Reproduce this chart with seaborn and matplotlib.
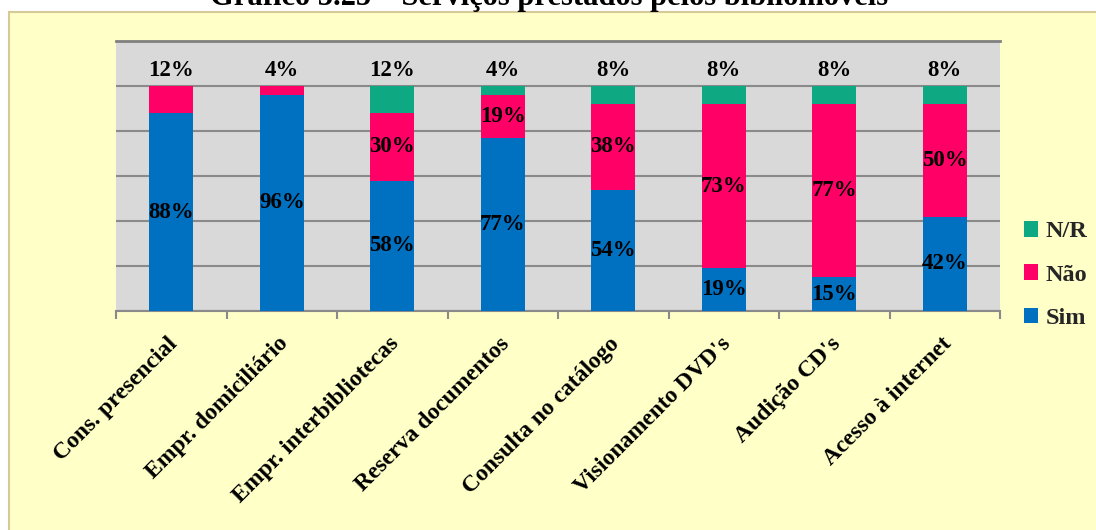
import matplotlib
matplotlib.use("Agg")
import matplotlib.pyplot as plt
import matplotlib.transforms as mtransforms
from matplotlib.patches import Rectangle, Patch
import numpy as np
import pandas as pd
import seaborn as sns

# Services offered by the mobile libraries (share of answers, %)
categories = ["Cons. presencial", "Empr. domiciliário", "Empr. interbibliotecas",
              "Reserva documentos", "Consulta no catálogo", "Visionamento DVD's",
              "Audição CD's", "Acesso à internet"]
sim = [88, 96, 58, 77, 54, 19, 15, 42]
nao = [12, 4, 30, 19, 38, 73, 77, 50]
nr = [0, 0, 12, 4, 8, 8, 8, 8]

colors = {"Sim": "#0070C0", "Não": "#FF0066", "N/R": "#0EA882"}

sns.set_theme(style="white")
plt.rcParams["font.family"] = ["Liberation Serif", "DejaVu Serif"]

W, H = 1096, 530
fig = plt.figure(figsize=(W / 100, H / 100), dpi=100)
fig.patch.set_facecolor("white")

# pale yellow chart area with a thin olive border
fig.patches.append(Rectangle((9 / W, -0.02), 1.0, 1 - 12 / H + 0.02,
                             transform=fig.transFigure, facecolor="#FFFFC8",
                             edgecolor="#D6CB96", lw=1.5, zorder=-10))

ax = fig.add_axes([116 / W, 1 - 311 / H, 884 / W, 270 / H])
ax.set_zorder(1)
ax.set_facecolor("#D9D9D9")

df = pd.DataFrame({"cat": categories, "Sim": sim, "Não": nao, "N/R": nr})
df["top_Sim"] = df["Sim"]
df["top_Não"] = df["Sim"] + df["Não"]
df["top_N/R"] = df["Sim"] + df["Não"] + df["N/R"]

# stacked bars: draw the cumulative tops from tallest to shortest
for name in ["N/R", "Não", "Sim"]:
    sns.barplot(data=df, x="cat", y=f"top_{name}", color=colors[name],
                saturation=1, width=0.4, errorbar=None, ax=ax, zorder=3,
                linewidth=0)

ax.set_xlim(-0.5, len(categories) - 0.5)
ax.set_ylim(0, 120)
ax.set_yticks(np.arange(0, 121, 20))
ax.set_yticklabels([])
ax.yaxis.grid(True, color="#8A8A8A", lw=1.5)
ax.set_axisbelow(True)
ax.set_xlabel("")
ax.set_ylabel("")
for side in ["left", "right"]:
    ax.spines[side].set_visible(False)
ax.spines["top"].set_color("#808080")
ax.spines["top"].set_linewidth(2)
ax.spines["bottom"].set_color("#8A8A8A")
ax.spines["bottom"].set_linewidth(1.5)

ax.set_xticks(range(len(categories)))
ax.set_xticklabels(categories, rotation=45, ha="right", va="top",
                   rotation_mode="anchor", fontsize=17, fontweight="bold",
                   color="black")
ax.set_xticks(np.arange(-0.5, len(categories), 1), minor=True)
ax.tick_params(axis="x", which="major", length=0, pad=16)
ax.tick_params(axis="x", which="minor", length=6, width=1.5, color="#8A8A8A",
               direction="out", bottom=True)
ax.tick_params(axis="y", length=0)
shift = mtransforms.ScaledTranslation(-0.04, 0, fig.dpi_scale_trans)
for lab in ax.get_xticklabels():
    lab.set_transform(lab.get_transform() + shift)

# value labels: inner segments at their centre, top segment above the bar
for i in range(len(categories)):
    vals = [sim[i], nao[i], nr[i]]
    top_idx = max(k for k, v in enumerate(vals) if v > 0)
    base = 0
    for k, v in enumerate(vals):
        if v > 0:
            y = 107 if k == top_idx else base + v / 2
            ax.text(i, y, f"{v}%", ha="center", va="center", fontsize=16.5,
                    fontweight="bold", color="black", zorder=5)
        base += v

handles = [Patch(facecolor=colors[n], edgecolor="none") for n in ["N/R", "Não", "Sim"]]
fig.legend(handles, ["N/R", "Não", "Sim"], loc="center left",
           bbox_to_anchor=(1002 / W, 1 - 275 / H), frameon=False,
           prop={"weight": "bold", "size": 17.5}, handlelength=0.6,
           handleheight=0.6, handletextpad=0.3, labelspacing=0.9)

fig.text(549 / W, 1 - 5 / H, "Gráfico 5.25 – Serviços prestados pelos bibliomóveis",
         ha="center", va="baseline", fontsize=22, fontweight="bold", color="black")

fig.savefig("out.png", dpi=100)
